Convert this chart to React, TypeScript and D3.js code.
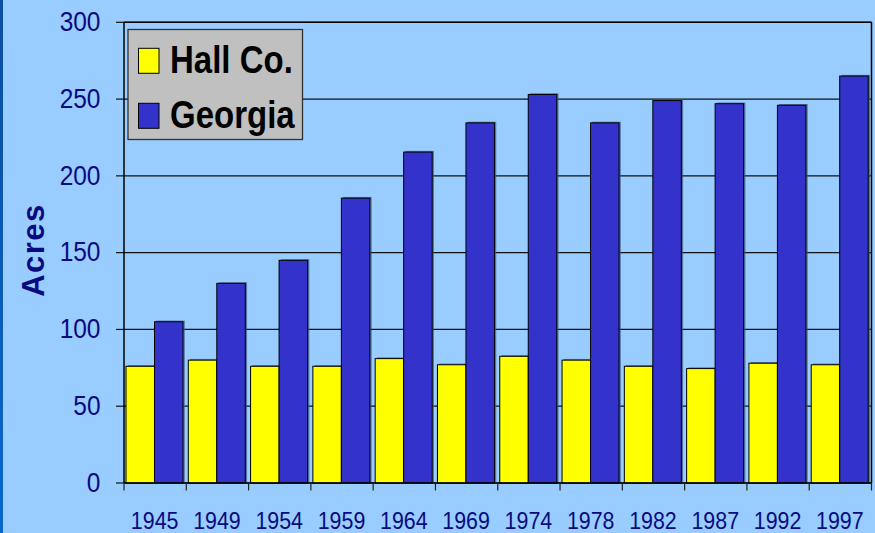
import React from "react";
import * as d3 from "d3";

const years = ["1945", "1949", "1954", "1959", "1964", "1969", "1974", "1978", "1982", "1987", "1992", "1997"];
const hallCo = [76, 80, 76, 76, 81, 77, 82.5, 80, 76, 74.5, 78, 77];
const georgia = [105, 130, 145, 185.5, 215.5, 234.5, 253, 234.5, 249, 247, 246, 265];
const seriesNames = ["Hall Co.", "Georgia"];
const seriesColors = ["#FFFF00", "#3333CC"];
const yTicks = [0, 50, 100, 150, 200, 250, 300];

const W = 875;
const H = 533;
const left = 124;
const right = 871.5;
const top = 22.3;
const bottom = 483;
const font = "'Liberation Sans', Arial, sans-serif";
const navy = "#0A0A80";

export default function App() {
  const x = d3.scaleBand<string>().domain(years).range([left, right]).padding(0);
  const inner = d3.scaleBand<string>().domain(seriesNames).range([2, 2 + x.bandwidth() * 0.915]).padding(0);
  const y = d3.scaleLinear().domain([0, 300]).range([bottom, top]);
  const data = [hallCo, georgia];
  const boundaries = years.map((yr) => x(yr) as number).concat([right]);

  return (
    <svg width={W} height={H} style={{ position: "absolute", left: 0, top: 0 }} xmlns="http://www.w3.org/2000/svg">
      <rect x={0} y={0} width={W} height={H} fill="#99CCFF" />
      <defs>
        <linearGradient id="strip" x1="0" y1="0" x2="0" y2="1">
          <stop offset="0" stopColor="#0A4FA0" />
          <stop offset="1" stopColor="#0A66CC" />
        </linearGradient>
      </defs>
      <rect x={0} y={0} width={3} height={H} fill="url(#strip)" />

      {yTicks.map((t) => (
        <line key={"g" + t} x1={left} x2={right} y1={y(t)} y2={y(t)} stroke="#111" strokeWidth={1.2} />
      ))}
      {yTicks.map((t) => (
        <line key={"yt" + t} x1={left - 8} x2={left} y1={y(t)} y2={y(t)} stroke="#111" strokeWidth={1.2} />
      ))}
      {yTicks.map((t) => (
        <g key={"yl" + t} transform={`translate(100.5,${y(t) + 8.8}) scale(1,1.12)`}>
          <text x={0} y={0} textAnchor="end" fontFamily={font} fontSize={24.5} fill={navy}>
            {t}
          </text>
        </g>
      ))}

      {data.map((vals, si) =>
        vals.map((v, i) => {
          const bx = (x(years[i]) as number) + (inner(seriesNames[si]) as number);
          return (
            <rect
              key={`s${si}-${i}`}
              x={bx + 1.8}
              y={y(v) - 1.2}
              width={inner.bandwidth()}
              height={bottom - y(v) + 1.2}
              fill="#3d5a80"
              opacity={0.75}
            />
          );
        })
      )}
      {years.map((yr, i) =>
        data.map((vals, si) => {
          const v = vals[i];
          const bx = (x(yr) as number) + (inner(seriesNames[si]) as number);
          return (
            <rect
              key={`b${si}-${i}`}
              x={bx}
              y={y(v)}
              width={inner.bandwidth()}
              height={bottom - y(v)}
              fill={seriesColors[si]}
              stroke="#000"
              strokeWidth={1}
            />
          );
        })
      )}

      <line x1={left} x2={left} y1={top} y2={bottom} stroke="#000" strokeWidth={1.5} />
      <line x1={right} x2={right} y1={top} y2={bottom} stroke="#000" strokeWidth={1.5} />
      <line x1={left} x2={right} y1={top} y2={top} stroke="#000" strokeWidth={1.5} />
      <line x1={left} x2={right} y1={bottom} y2={bottom} stroke="#000" strokeWidth={1.5} />

      {boundaries.map((b, i) => (
        <line key={"xt" + i} x1={b} x2={b} y1={bottom} y2={bottom + 7.5} stroke="#222" strokeWidth={1.2} />
      ))}
      {years.map((yr) => (
        <g key={"xl" + yr} transform={`translate(${(x(yr) as number) + x.bandwidth() / 2 - 0.5},528.5) scale(1,1.14)`}>
          <text x={0} y={0} textAnchor="middle" fontFamily={font} fontSize={21.4} fill={navy}>
            {yr}
          </text>
        </g>
      ))}

      <text
        transform="translate(43.5,250) rotate(-90)"
        textAnchor="middle"
        fontFamily={font}
        fontSize={31}
        fontWeight="bold"
        letterSpacing={1.5}
        fill={navy}
      >
        Acres
      </text>

      <rect x={128} y={29.5} width={174.5} height={110} fill="#C0C0C0" stroke="#333" strokeWidth={1.3} />
      {seriesNames.map((name, i) => {
        const sy = 48.3 + i * 55;
        return (
          <g key={"lg" + name}>
            <rect x={138.5} y={sy} width={20.5} height={25} fill={seriesColors[i]} stroke="#000" strokeWidth={1} />
            <g transform={`translate(170,${sy + 25}) scale(1,1.2)`}>
              <text x={0} y={0} fontFamily={font} fontSize={33} fontWeight="bold" fill="#000">
                {name}
              </text>
            </g>
          </g>
        );
      })}
    </svg>
  );
}
